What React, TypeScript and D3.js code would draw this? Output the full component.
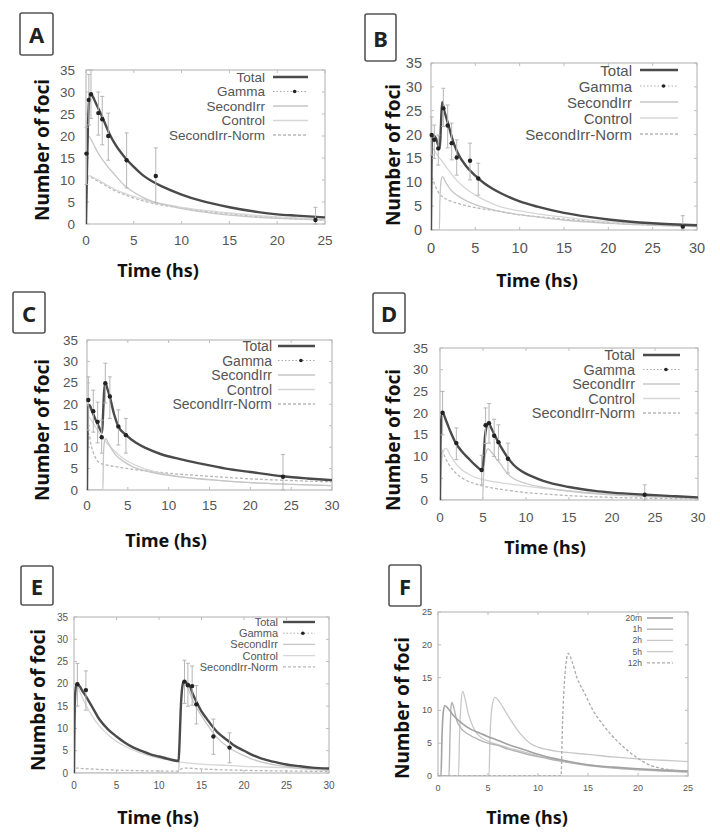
import React from 'react';
import * as d3 from 'd3';

type Pt = [number, number];
type Obs = [number, number, number, number]; // time, mean, low, high

// ---- A ----
const aTotal: Pt[] = [[0,0],[0.08,10],[0.2,22],[0.35,28.5],[0.5,29.6],[0.7,29],[1,27.6],[1.5,25.3],[2,22.8],[2.5,20.3],[3,18.3],[4,15.3],[5,13],[6,11],[7,9.6],[8,8.5],[10,6.7],[12,5.3],[15,3.8],[18,2.7],[20,2.2],[22,1.9],[25,1.5]];
const aSecond: Pt[] = [[0,0],[0.1,17],[0.25,20],[0.5,19.3],[1,17.2],[1.5,15.3],[2,13.8],[3,11.2],[4,8.8],[5,7.2],[6,6],[7,5.1],[8,4.5],[10,3.5],[12,2.8],[15,2],[18,1.5],[20,1.3],[25,0.9]];
const aControl: Pt[] = [[0,0],[0.1,8.5],[0.3,11],[1,10.3],[2,9.1],[3,7.9],[4,7],[5,6.2],[7,5],[10,3.8],[12,3.2],[15,2.5],[20,1.6],[25,1.1]];
const aNorm: Pt[] = [[0,0],[0.1,8],[0.3,10.8],[1,10],[2,8.8],[3,7.6],[4,6.7],[5,5.9],[7,4.7],[10,3.6],[12,3],[15,2.3],[18,1.7],[20,1.4],[25,0.9]];
const aGamma: Obs[] = [[0.05,16,9,22],[0.3,28.2,22.5,34],[0.52,29.5,24,35],[1.29,25.2,20.2,30],[1.7,23.8,18,29],[2.33,20,14.5,25.2],[4.25,14.5,8.2,20.7],[7.3,10.9,4.8,17.3],[24,0.9,0,3.8]];

// ---- B ----
const bTotal: Pt[] = [[0,0],[0.05,12],[0.12,19.3],[0.3,19.8],[0.6,19],[0.85,17.6],[1,17.2],[1.1,21],[1.25,26.8],[1.5,25],[2,21.8],[2.5,18.5],[3,16.2],[4,13.3],[5,11.4],[6,9.8],[7,8.6],[8,7.6],[10,6],[12,4.9],[15,3.6],[18,2.7],[20,2.2],[25,1.4],[30,1]];
const bSecond: Pt[] = [[0,0],[0.95,0],[1.0,6],[1.15,10.5],[1.3,11.2],[1.6,10.2],[2,9],[2.5,7.9],[3,7.2],[4,6.1],[5,5.3],[7,4.2],[10,3.2],[15,2.1],[20,1.4],[25,1],[30,0.7]];
const bControl: Pt[] = [[0,0],[0.07,14],[0.2,17],[0.6,16],[1,15],[1.5,13.8],[2,12.5],[3,10.2],[4,8.6],[5,7.3],[6,6.3],[7.6,5],[10,4],[12,3.4],[15,2.7],[20,1.7],[25,1.2],[30,0.85]];
const bNorm: Pt[] = [[0,0],[0.05,8],[0.15,10.8],[0.4,9.6],[0.8,8],[1.2,7.1],[1.6,6.6],[2,6.2],[3,5.6],[4,5.1],[5,4.7],[7,4.1],[10,3.2],[12,2.8],[15,2.3],[20,1.5],[25,1.05],[30,0.7]];
const bGamma: Obs[] = [[0.08,19.9,15.7,23.7],[0.37,18.9,15,22],[0.82,17.1,13.6,19.9],[1.39,25.5,21.7,29.7],[1.88,21.9,17.2,26.2],[2.33,18.2,14.7,22.4],[2.9,15.2,11.5,18.9],[4.4,14.5,10.5,18.2],[5.33,10.8,7.3,14],[28.4,0.7,0,3]];

// ---- C ----
const cTotal: Pt[] = [[0,0],[0.05,12],[0.15,19.8],[0.3,19.8],[0.6,18.5],[1,16.6],[1.4,15],[1.85,13.4],[1.95,17],[2.1,23],[2.25,25],[2.5,23.6],[2.8,21.7],[3.3,17.8],[3.8,15],[4.8,12.8],[6,11],[7.3,9.7],[9,8.4],[11.4,7.2],[13.8,6.2],[17,5],[20,4.2],[24,3.2],[27,2.7],[30,2.3]];
const cSecond: Pt[] = [[0,0],[1.95,0],[2.0,7],[2.15,11.5],[2.3,12],[2.6,11],[3,9.6],[3.5,8.2],[4.4,6.8],[5.5,5.5],[7.3,4.4],[10,3.4],[15,2.4],[20,1.7],[25,1.3],[30,1]];
const cControl: Pt[] = [[0,0],[0.05,12],[0.25,17],[0.6,16],[1,14.8],[1.5,13.3],[2,12],[2.5,10.8],[3,9.8],[4,8],[5,6.7],[7,5],[10,3.6],[15,2.4],[20,1.7],[25,1.3],[30,1]];
const cNorm: Pt[] = [[0,0],[0.05,9],[0.2,13.2],[0.5,10.5],[0.8,8.6],[1.2,7],[1.6,6.3],[2,6],[3,5.6],[5,5],[7,4.5],[10,3.9],[15,3.2],[20,2.6],[25,2.2],[30,1.9]];
const cGamma: Obs[] = [[0.16,21,14,26.4],[0.77,18.4,13.5,23.3],[1.3,15.9,11,20.5],[1.8,12.3,8.6,16.3],[2.24,24.9,20.3,29.6],[2.8,21.8,16.7,26.4],[3.84,14.8,10.5,18.7],[4.77,12.8,8.6,16.7],[24,3.1,0,8.3]];

// ---- D ----
const dTotal: Pt[] = [[0,0],[0.05,12],[0.15,18.5],[0.3,20.1],[0.7,18.3],[1.2,15.8],[1.8,13.2],[2.5,11.3],[3.3,9.6],[4,8.2],[4.9,6.9],[5.05,9],[5.25,15],[5.6,17.8],[6,16.4],[6.4,14.8],[6.8,13.2],[7.4,11.2],[7.9,9.7],[8.6,8],[9.5,6.6],[10.5,5.6],[12,4.4],[15,3],[18,2.1],[20,1.7],[24,1.2],[27,0.9],[30,0.6]];
const dSecond: Pt[] = [[0,0],[4.95,0],[5.05,5],[5.3,10.5],[5.6,11.8],[6,11],[6.5,9.6],[7,8.4],[7.75,6.3],[8.5,5],[10,3.8],[12,2.9],[14,2.3],[17.8,1.5],[21.7,1],[25,0.7],[30,0.4]];
const dControl: Pt[] = [[0,0],[0.1,6],[0.35,11],[0.7,11.9],[1.2,10.3],[1.8,8.5],[2.5,7],[3.3,6],[4,5.3],[5,4.7],[6,4.3],[7,4],[8,3.7],[10,3.2],[12,2.7],[15,2.1],[20,1.4],[25,0.9],[30,0.6]];
const dNorm: Pt[] = [[0,0],[0.05,8],[0.2,11.5],[0.6,9.8],[1,8.3],[1.5,6.9],[2,5.9],[3,4.6],[4,3.8],[5,3.2],[6,2.8],[8,2.2],[10,1.7],[12,1.4],[15,1],[20,0.6],[25,0.4],[30,0.3]];
const dGamma: Obs[] = [[0.3,20.1,15,25],[1.9,13.1,9.3,16.6],[4.85,6.9,3.5,10.3],[5.3,17.2,13,21.2],[5.7,17.7,13.1,22.2],[6.3,14.8,10,18.6],[6.8,13.3,9.2,17.3],[7.9,9.5,6.2,13.1],[23.8,1.2,0,3.5]];

// ---- E ----
const eTotal: Pt[] = [[0,0],[0.05,10],[0.15,18],[0.3,19.9],[0.6,19.6],[1,18.4],[1.5,16.9],[2,15.3],[3,12],[4,9.8],[5,8.2],[6,6.8],[7,5.7],[8,4.9],[9,4.2],[10,3.7],[11,3.2],[12.3,2.7],[12.4,6],[12.55,14],[12.75,19.5],[12.9,20.5],[13.3,20.2],[13.65,19.4],[14,17.6],[14.4,16],[15,13.8],[15.6,12.2],[16.8,9.3],[18,7.4],[18.75,6.3],[20,5],[20.7,4.3],[22,3.3],[22.7,2.9],[24,2.3],[25,1.9],[26.6,1.5],[28,1.2],[30,1]];
const eSecond: Pt[] = [[0,0],[12.3,0],[12.45,8],[12.65,17],[12.9,20.2],[13.3,19.4],[14,16.2],[15,12.8],[16,10],[16.8,8],[18,6],[18.7,5.1],[20,3.9],[20.7,3.3],[22,2.5],[25,1.4],[28,0.8],[30,0.6]];
const eControl: Pt[] = [[0,0],[0.05,9],[0.15,17],[0.3,19.8],[0.6,18.6],[1,16.8],[1.5,14.9],[2,13.2],[3,10.5],[4,8.6],[5,7.1],[6,6],[7,5.1],[8,4.4],[9,3.8],[10.9,3],[12.3,2.5],[15,2],[18,1.7],[20,1.5],[25,1.2],[30,0.9]];
const eNorm: Pt[] = [[0,0],[0.1,0.8],[0.3,1.1],[1,1],[3,0.8],[6,0.6],[10,0.45],[12.3,0.4],[12.5,0.8],[13,1.1],[15,0.9],[20,0.6],[25,0.45],[30,0.35]];
const eGamma: Obs[] = [[0.4,19.9,15,24.6],[1.4,18.6,14.1,22.9],[13,20.5,15.6,25.3],[13.4,19.7,15,24.6],[13.9,19.5,15.2,24],[14.4,15.4,11,19.6],[16.4,8.2,4.2,12.1],[18.3,5.7,2.3,9]];

// ---- F ----
const f20m: Pt[] = [[0,0],[0.3,0],[0.4,6],[0.55,10],[0.7,10.7],[1,10.3],[1.5,9.3],[2.5,7.9],[3.3,7.1],[4.2,6.5],[5,6],[5.9,5.5],[7,4.8],[8,4.3],[9.2,3.7],[10.5,3.1],[12.5,2.4],[15,1.7],[17.5,1.35],[20,1.1],[22.5,0.9],[25,0.75]];
const f1h: Pt[] = [[0,0],[1.1,0],[1.2,6],[1.3,10.5],[1.4,11.2],[1.6,10.3],[1.87,8.5],[2.2,7.5],[3,6.4],[4,5.6],[5,5],[5.9,4.7],[7,4.1],[8,3.7],[9.2,3.2],[10.5,2.8],[12.5,2.2],[15,1.6],[17.5,1.2],[20,0.95],[22.5,0.75],[25,0.6]];
const f2h: Pt[] = [[0,0],[2.05,0],[2.15,6],[2.3,11],[2.47,12.9],[2.7,11.8],[3.03,9.5],[3.5,7.5],[4,6.3],[5,5.3],[6,4.8],[7,4.3],[8,3.9],[9.2,3.4],[10.5,2.9],[12.5,2.3],[15,1.7],[17.5,1.3],[20,1],[22.5,0.8],[25,0.65]];
const f5h: Pt[] = [[0,0],[5.1,0],[5.2,6],[5.4,10.5],[5.7,12],[6.2,11.2],[6.87,9.5],[7.5,8],[8.2,6.5],[9.2,5],[10,4.4],[11,4],[12.2,3.7],[15,3.3],[17.5,2.9],[20,2.6],[22.5,2.4],[25,2.2]];
const f12h: Pt[] = [[0,0],[12.3,0],[12.45,8],[12.7,15.5],[13.03,18.7],[13.4,17.5],[13.87,15.1],[14.7,12.5],[15.5,10],[16.3,8.2],[17.2,6.5],[18,5.2],[18.87,4],[19.7,3],[20.5,2.2],[21.3,1.6],[22.2,1.2],[23.5,0.9],[25,0.7]];

const modelNames = ['Total', 'Gamma', 'SecondIrr', 'Control', 'SecondIrr-Norm'];
const doseNames = ['20m', '1h', '2h', '5h', '12h'];
const ticks25 = [0, 5, 10, 15, 20, 25];
const ticks30 = [0, 5, 10, 15, 20, 25, 30];
const ticks35 = [0, 5, 10, 15, 20, 25, 30, 35];

const TOTAL = { stroke: '#4a4a4a', width: 2.4 };
const SECOND = { stroke: '#c6c6c6', width: 1.3 };
const CONTROL = { stroke: '#d6d6d6', width: 1.3 };
const NORM = { stroke: '#b8b8b8', width: 1.3, dash: '3,2' };
const GAMMA = { stroke: '#aaaaaa', width: 1, dash: '1.5,2', dot: true };
const DOSE_DARK = { stroke: '#a2a2a2', width: 1.6 };
const DOSE_MID = { stroke: '#b4b4b4', width: 1.4 };
const DOSE_LIGHT = { stroke: '#c8c8c8', width: 1.3 };
const DOSE_DASH = { stroke: '#aaaaaa', width: 1.3, dash: '3,2' };

const modelStyles = [TOTAL, GAMMA, SECOND, CONTROL, NORM];
const doseStyles = [DOSE_DARK, DOSE_MID, DOSE_LIGHT, DOSE_LIGHT, DOSE_DASH];

const tickFontFamily = '"Liberation Sans", Arial, sans-serif';
const titleFontFamily = '"Noto Sans", "Open Sans", sans-serif';

function Panel({ cfg }: { cfg: any }) {
    const { letter, box, plot, xMax, yMax, xTicks, yTicks, tickSize, xLabelGap, yLabelGap, series, obs, legend, yTitle, xTitle } = cfg;

    const x = d3.scaleLinear().domain([0, xMax]).range([plot.left, plot.right]);
    const y = d3.scaleLinear().domain([0, yMax]).range([plot.bottom, plot.top]);
    const line = d3.line<Pt>().x((d) => x(d[0])).y((d) => y(d[1])).curve(d3.curveMonotoneX);
    const clipId = `clip-${letter}`;
    const frame = '#bdbdbd';

    return (
        <g>
            <defs>
                <clipPath id={clipId}>
                    <rect x={plot.left} y={plot.top} width={plot.right - plot.left} height={plot.bottom - plot.top} />
                </clipPath>
            </defs>

            {/* panel letter */}
            <rect x={box[0]} y={box[1]} width={box[2]} height={box[3]} rx={2} fill="#fff" stroke="#555" strokeWidth={1.6} />
            <text x={box[0] + box[2] / 2} y={box[1] + box[3] / 2} textAnchor="middle" dominantBaseline="central"
                fontFamily={titleFontFamily} fontWeight="bold" fontSize={22} fill="#222">{letter}</text>

            {/* frame and ticks */}
            <rect x={plot.left} y={plot.top} width={plot.right - plot.left} height={plot.bottom - plot.top} fill="none" stroke={frame} strokeWidth={1.2} />
            {xTicks.map((v: number, i: number) => (
                <g key={`xt${i}`}>
                    <line x1={x(v)} x2={x(v)} y1={plot.bottom} y2={plot.bottom - 3} stroke={frame} />
                    <line x1={x(v)} x2={x(v)} y1={plot.top} y2={plot.top + 3} stroke={frame} />
                    <text x={x(v)} y={plot.bottom + xLabelGap} textAnchor="middle" dominantBaseline="central"
                        fontFamily={tickFontFamily} fontSize={tickSize} fill="#555">{v}</text>
                </g>
            ))}
            {yTicks.map((v: number, i: number) => (
                <g key={`yt${i}`}>
                    <line x1={plot.left} x2={plot.left + 3} y1={y(v)} y2={y(v)} stroke={frame} />
                    <line x1={plot.right} x2={plot.right - 3} y1={y(v)} y2={y(v)} stroke={frame} />
                    <text x={plot.left - yLabelGap} y={y(v)} textAnchor="end" dominantBaseline="central"
                        fontFamily={tickFontFamily} fontSize={tickSize} fill="#555">{v}</text>
                </g>
            ))}

            {/* curves */}
            <g clipPath={`url(#${clipId})`}>
                {series.map((s: any, i: number) => (
                    <path key={`s${i}`} d={line(s.data) || ''} fill="none" stroke={s.style.stroke}
                        strokeWidth={s.style.width} strokeDasharray={s.style.dash} strokeLinejoin="round" />
                ))}
            </g>

            {/* observations */}
            {(obs || []).map((o: Obs, i: number) => (
                <g key={`o${i}`}>
                    <line x1={x(o[0])} x2={x(o[0])} y1={y(o[2])} y2={y(o[3])} stroke="#b5b5b5" strokeWidth={1} />
                    <line x1={x(o[0]) - 2} x2={x(o[0]) + 2} y1={y(o[3])} y2={y(o[3])} stroke="#b5b5b5" strokeWidth={1} />
                    <line x1={x(o[0]) - 2} x2={x(o[0]) + 2} y1={y(o[2])} y2={y(o[2])} stroke="#b5b5b5" strokeWidth={1} />
                    <circle cx={x(o[0])} cy={y(o[1])} r={2.2} fill="#222" />
                </g>
            ))}

            {/* legend */}
            {legend.names.map((name: string, i: number) => {
                const st = legend.styles[i];
                const ly = legend.y + i * legend.dy;
                return (
                    <g key={`lg${i}`}>
                        <text x={legend.textX} y={ly} textAnchor="end" dominantBaseline="central"
                            fontFamily={tickFontFamily} fontSize={legend.size} fill="#555">{name}</text>
                        <line x1={legend.x0} x2={legend.x1} y1={ly} y2={ly} stroke={st.stroke} strokeWidth={st.width} strokeDasharray={st.dash} />
                        {st.dot ? <circle cx={legend.x0 + (legend.x1 - legend.x0) * 0.62} cy={ly} r={1.8} fill="#222" /> : null}
                    </g>
                );
            })}

            {/* axis titles */}
            <text transform={`translate(${yTitle[0]}, ${yTitle[1]}) rotate(-90)`} textAnchor="middle" dominantBaseline="central"
                fontFamily={titleFontFamily} fontWeight="bold" fontSize={19} fill="#111">Number of foci</text>
            <text x={xTitle[0]} y={xTitle[1]} textAnchor="middle" dominantBaseline="central"
                fontFamily={titleFontFamily} fontWeight="bold" fontSize={18} fill="#111">Time (hs)</text>
        </g>
    );
}

const panels = [
    {
        letter: 'A', box: [20, 13, 33, 42], plot: { left: 86, right: 325, top: 70, bottom: 224 },
        xMax: 25, yMax: 35, xTicks: ticks25, yTicks: ticks35, tickSize: 13.5, xLabelGap: 16, yLabelGap: 11,
        series: [{ data: aNorm, style: NORM }, { data: aControl, style: CONTROL }, { data: aSecond, style: SECOND }, { data: aTotal, style: TOTAL }],
        obs: aGamma,
        legend: { names: modelNames, styles: modelStyles, textX: 265, x0: 273, x1: 308, y: 77, dy: 14.5, size: 13.5 },
        yTitle: [42, 150], xTitle: [158, 270],
    },
    {
        letter: 'B', box: [365, 14, 31, 47], plot: { left: 431, right: 697, top: 63, bottom: 230 },
        xMax: 30, yMax: 35, xTicks: ticks30, yTicks: ticks35, tickSize: 14.5, xLabelGap: 18, yLabelGap: 9,
        series: [{ data: bNorm, style: NORM }, { data: bControl, style: CONTROL }, { data: bSecond, style: SECOND }, { data: bTotal, style: TOTAL }],
        obs: bGamma,
        legend: { names: modelNames, styles: modelStyles, textX: 632, x0: 640, x1: 678, y: 70, dy: 16, size: 15 },
        yTitle: [393, 155], xTitle: [537, 280],
    },
    {
        letter: 'C', box: [13, 292, 32, 41], plot: { left: 87, right: 332, top: 340, bottom: 490 },
        xMax: 30, yMax: 35, xTicks: ticks30, yTicks: ticks35, tickSize: 13.5, xLabelGap: 15, yLabelGap: 9,
        series: [{ data: cNorm, style: NORM }, { data: cControl, style: CONTROL }, { data: cSecond, style: SECOND }, { data: cTotal, style: TOTAL }],
        obs: cGamma,
        legend: { names: modelNames, styles: modelStyles, textX: 272, x0: 278, x1: 315, y: 346, dy: 14.5, size: 14 },
        yTitle: [42, 430], xTitle: [166, 540],
    },
    {
        letter: 'D', box: [373, 293, 32, 40], plot: { left: 440, right: 698, top: 348, bottom: 500 },
        xMax: 30, yMax: 35, xTicks: ticks30, yTicks: ticks35, tickSize: 13.5, xLabelGap: 17, yLabelGap: 12,
        series: [{ data: dNorm, style: NORM }, { data: dControl, style: CONTROL }, { data: dSecond, style: SECOND }, { data: dTotal, style: TOTAL }],
        obs: dGamma,
        legend: { names: modelNames, styles: modelStyles, textX: 635, x0: 643, x1: 680, y: 355, dy: 14.5, size: 14.5 },
        yTitle: [393, 440], xTitle: [545, 547],
    },
    {
        letter: 'E', box: [21, 566, 32, 39], plot: { left: 74, right: 329, top: 617, bottom: 773 },
        xMax: 30, yMax: 35, xTicks: ticks30, yTicks: ticks35, tickSize: 10, xLabelGap: 12, yLabelGap: 6,
        series: [{ data: eNorm, style: NORM }, { data: eControl, style: CONTROL }, { data: eSecond, style: SECOND }, { data: eTotal, style: TOTAL }],
        obs: eGamma,
        legend: { names: modelNames, styles: modelStyles, textX: 278, x0: 283, x1: 315, y: 622, dy: 11.2, size: 11 },
        yTitle: [38, 700], xTitle: [158, 817],
    },
    {
        letter: 'F', box: [389, 565, 32, 41], plot: { left: 438, right: 688, top: 612, bottom: 776 },
        xMax: 25, yMax: 25, xTicks: ticks25, yTicks: ticks25, tickSize: 9, xLabelGap: 12, yLabelGap: 6,
        series: [{ data: f5h, style: DOSE_LIGHT }, { data: f2h, style: DOSE_LIGHT }, { data: f1h, style: DOSE_MID }, { data: f20m, style: DOSE_DARK }, { data: f12h, style: DOSE_DASH }],
        obs: null,
        legend: { names: doseNames, styles: doseStyles, textX: 642, x0: 647, x1: 673, y: 618, dy: 11.2, size: 8.5 },
        yTitle: [402, 708], xTitle: [527, 817],
    },
];

export default function App() {
    return (
        <svg width={720} height={835} xmlns="http://www.w3.org/2000/svg"
            style={{ position: 'absolute', left: 0, top: 0, background: '#fff' }}>
            <rect width={720} height={835} fill="#fff" />
            {panels.map((p) => <Panel key={p.letter} cfg={p} />)}
        </svg>
    );
}
